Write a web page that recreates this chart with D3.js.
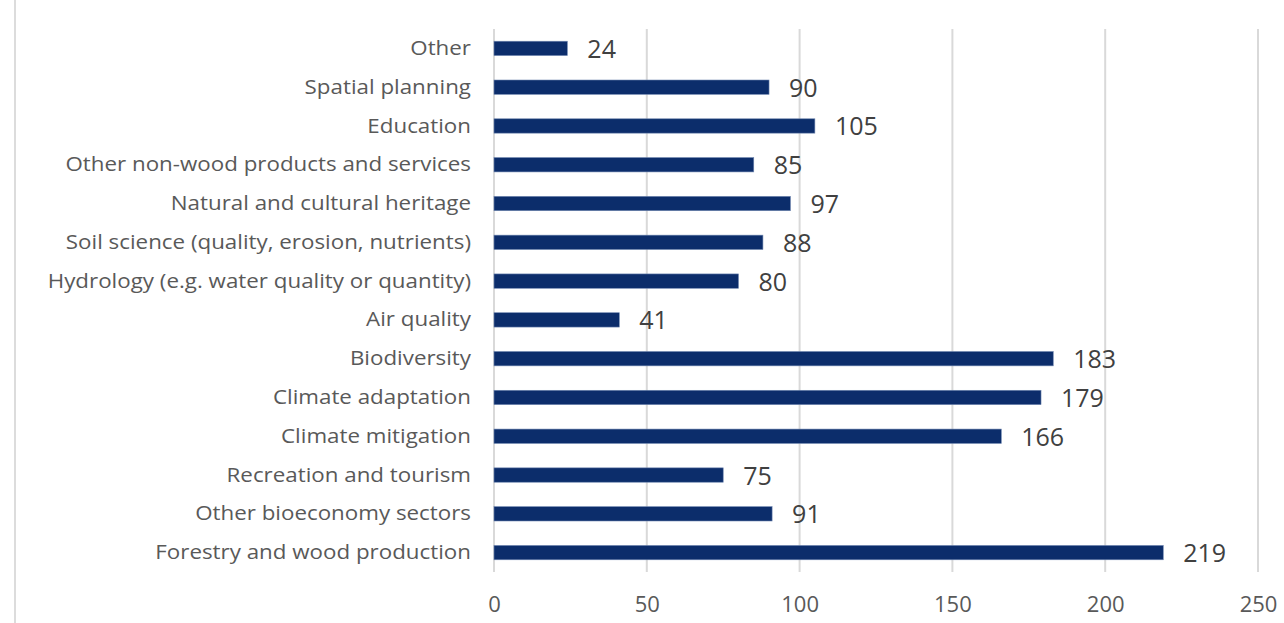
<!DOCTYPE html>
<html>
<head>
<meta charset="utf-8">
<script src="https://cdn.jsdelivr.net/npm/d3@7"></script>
<style>
  html, body { margin: 0; padding: 0; background: #fff; }
  svg { display: block; }
</style>
</head>
<body>
<svg id="chart" width="1284" height="623"></svg>
<script>
// Topics addressed, number of responses per topic
const categories = [
  "Other",
  "Spatial planning",
  "Education",
  "Other non-wood products and services",
  "Natural and cultural heritage",
  "Soil science (quality, erosion, nutrients)",
  "Hydrology (e.g. water quality or quantity)",
  "Air quality",
  "Biodiversity",
  "Climate adaptation",
  "Climate mitigation",
  "Recreation and tourism",
  "Other bioeconomy sectors",
  "Forestry and wood production"
];
const counts = [24, 90, 105, 85, 97, 88, 80, 41, 183, 179, 166, 75, 91, 219];
const tickValues = [0, 50, 100, 150, 200, 250];

const svg = d3.select("#chart");
const font = "'Open Sans', sans-serif";

// panel border on the left
svg.append("line")
  .attr("x1", 15).attr("x2", 15)
  .attr("y1", 0).attr("y2", 623)
  .attr("stroke", "#dcdcdc").attr("stroke-width", 2);

const x = d3.scaleLinear().domain([0, 250]).range([494, 1258]);
const y = d3.scaleBand().domain(categories).range([29, 572]).paddingInner(0.63).paddingOuter(0.315);

// vertical gridlines
svg.append("g")
  .selectAll("line")
  .data(tickValues)
  .join("line")
  .attr("x1", d => x(d)).attr("x2", d => x(d))
  .attr("y1", 29).attr("y2", 572)
  .attr("stroke", "#d9d9d9").attr("stroke-width", 2);

// bars
svg.append("g")
  .selectAll("rect")
  .data(categories)
  .join("rect")
  .attr("x", x(0))
  .attr("y", d => y(d))
  .attr("width", (d, i) => x(counts[i]) - x(0))
  .attr("height", y.bandwidth())
  .attr("fill", "#0c2d6b")
  .attr("stroke", "#6f86b0")
  .attr("stroke-width", 0.6);

// category labels
const yAxis = d3.axisLeft(y).tickSize(0).tickPadding(0);
const yg = svg.append("g").attr("transform", "translate(471,0)").call(yAxis);
yg.select(".domain").remove();
yg.selectAll("text")
  .attr("font-family", font)
  .attr("font-size", 20.5)
  .attr("transform", "scale(1.09,1)")
  .attr("fill", "#595959");

// value labels
svg.append("g")
  .selectAll("text")
  .data(categories)
  .join("text")
  .attr("x", (d, i) => x(counts[i]) + 20)
  .attr("y", d => y(d) + y.bandwidth() / 2)
  .attr("dy", "0.38em")
  .attr("font-family", font)
  .attr("font-size", 25)
  .attr("fill", "#404040")
  .text((d, i) => counts[i]);

// x axis tick labels
const xAxis = d3.axisBottom(x).tickValues(tickValues).tickSize(0).tickPadding(0);
const xg = svg.append("g").attr("transform", "translate(0,596)").call(xAxis);
xg.select(".domain").remove();
xg.selectAll("text")
  .attr("font-family", font)
  .attr("font-size", 22)
  .attr("fill", "#595959");
</script>
</body>
</html>
